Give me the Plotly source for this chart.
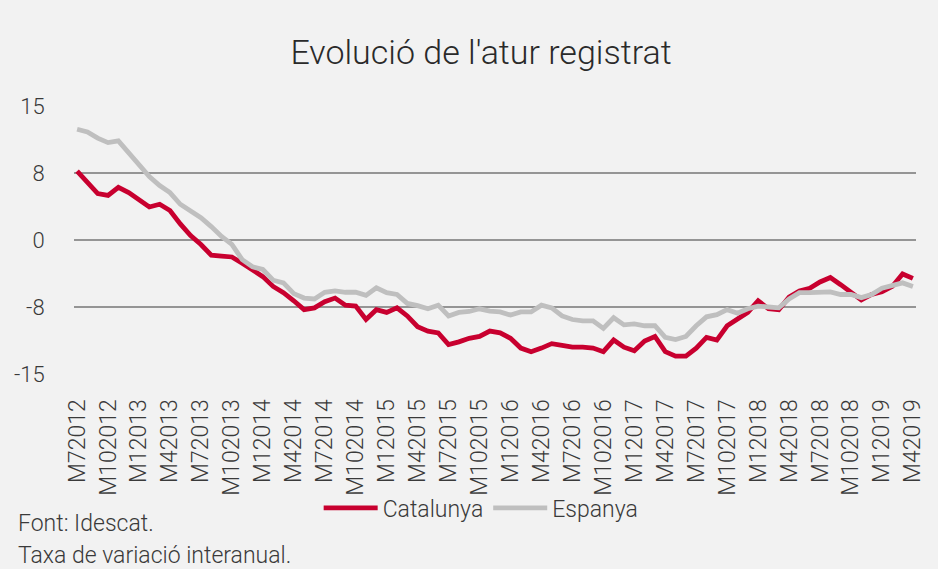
import plotly.graph_objects as go

# Monthly periods M7 2012 .. M4 2019
months = []
y, m = 2012, 7
while (y, m) <= (2019, 4):
    months.append(f"M{m}{y}")
    m += 1
    if m > 12:
        m, y = 1, y + 1

tick_labels = months[::3]

catalunya = [7.7, 6.4, 5.2, 5.0, 5.9, 5.3, 4.5, 3.7, 4.0, 3.3,
             1.8, 0.5, -0.5, -1.7, -1.8, -1.9, -2.6, -3.4, -4.1, -5.2,
             -5.9, -6.8, -7.8, -7.6, -6.9, -6.5, -7.3, -7.4, -8.9, -7.8,
             -8.1, -7.6, -8.5, -9.7, -10.2, -10.4, -11.7, -11.4, -11.0, -10.8,
             -10.2, -10.4, -11.0, -12.1, -12.5, -12.1, -11.6, -11.8, -12.0, -12.0,
             -12.1, -12.5, -11.2, -12.0, -12.4, -11.3, -10.8, -12.5, -13.0, -13.0,
             -12.1, -10.9, -11.2, -9.6, -8.9, -8.1, -6.8, -7.7, -7.8, -6.4,
             -5.7, -5.4, -4.7, -4.2, -5.0, -5.9, -6.7, -6.1, -5.8, -5.2,
             -3.8, -4.3]

espanya = [12.4, 12.1, 11.4, 10.9, 11.1, 9.7, 8.4, 7.1, 6.1, 5.3,
           4.0, 3.3, 2.5, 1.5, 0.4, -0.5, -2.2, -3.0, -3.3, -4.5,
           -4.8, -6.0, -6.5, -6.6, -5.85, -5.7, -5.85, -5.85, -6.2, -5.35,
           -5.9, -6.1, -7.1, -7.35, -7.7, -7.3, -8.5, -8.1, -8.0, -7.7,
           -7.95, -8.05, -8.4, -8.05, -8.05, -7.3, -7.6, -8.5, -8.9, -9.05,
           -9.05, -9.9, -8.7, -9.5, -9.4, -9.6, -9.6, -10.9, -11.15, -10.8,
           -9.6, -8.6, -8.35, -7.8, -8.2, -7.7, -7.4, -7.5, -7.6, -6.6,
           -5.9, -5.9, -5.9, -5.8, -6.1, -6.1, -6.45, -6.1, -5.4, -5.15,
           -4.8, -5.2]

y_ticks = [-15, -7.5, 0, 7.5, 15]
y_tick_text = ["-15", "-8", "0", "8", "15"]

FONT = "Roboto"
TXT = "#3a3a3a"
BG = "#f2f2f2"

fig = go.Figure()
fig.add_trace(go.Scatter(x=months, y=catalunya, name="Catalunya", mode="lines",
                         line=dict(color="#c8002f", width=4.8)))
fig.add_trace(go.Scatter(x=months, y=espanya, name="Espanya", mode="lines",
                         line=dict(color="#bfbfbf", width=4.8)))

fig.update_layout(
    width=938, height=569,
    paper_bgcolor=BG, plot_bgcolor=BG,
    margin=dict(l=74, r=12, t=106, b=195),
    font=dict(family=FONT, color=TXT, size=22, weight=300),
    title=dict(text="Evolució de l'atur registrat", x=481 / 938, xanchor="center",
               y=1 - 52 / 569, yanchor="middle", xref="container", yref="container",
               font=dict(family=FONT, size=34, color="#2a2a2a", weight=300)),
    showlegend=True,
    legend=dict(orientation="h", x=(486 - 74) / 852, xanchor="center", y=-0.5, yanchor="middle",
                font=dict(family=FONT, size=23, color=TXT, weight=300),
                bgcolor="rgba(0,0,0,0)", itemwidth=54, traceorder="normal"),
    xaxis=dict(type="category", range=[-0.3, len(months) - 0.7],
               tickmode="array", tickvals=tick_labels, ticktext=tick_labels,
               tickangle=-90, showgrid=False, zeroline=False, showline=False,
               ticks="outside", ticklen=15, tickcolor="rgba(0,0,0,0)",
               tickfont=dict(family=FONT, size=23, color=TXT, weight=300)),
    yaxis=dict(range=[-15, 15], tickmode="array", tickvals=y_ticks, ticktext=y_tick_text,
               showgrid=True, gridcolor="#959595", gridwidth=1.5, zeroline=False,
               showline=False, ticks="outside", ticklen=24, tickcolor="rgba(0,0,0,0)",
               tickfont=dict(family=FONT, size=22, color=TXT, weight=300)),
    annotations=[
        dict(text="Font: Idescat.", xref="paper", yref="paper",
             x=(15 - 74) / 852, y=(374 - 523) / 268, xanchor="left", yanchor="middle",
             showarrow=False, font=dict(family=FONT, size=23, color=TXT, weight=300)),
        dict(text="Taxa de variació interanual.", xref="paper", yref="paper",
             x=(15 - 74) / 852, y=(374 - 555) / 268, xanchor="left", yanchor="middle",
             showarrow=False, font=dict(family=FONT, size=23, color=TXT, weight=300)),
    ],
)

fig.write_html("out.html", config={"displayModeBar": False},
               post_script="document.body.style.margin='0';document.body.style.overflow='hidden';")
